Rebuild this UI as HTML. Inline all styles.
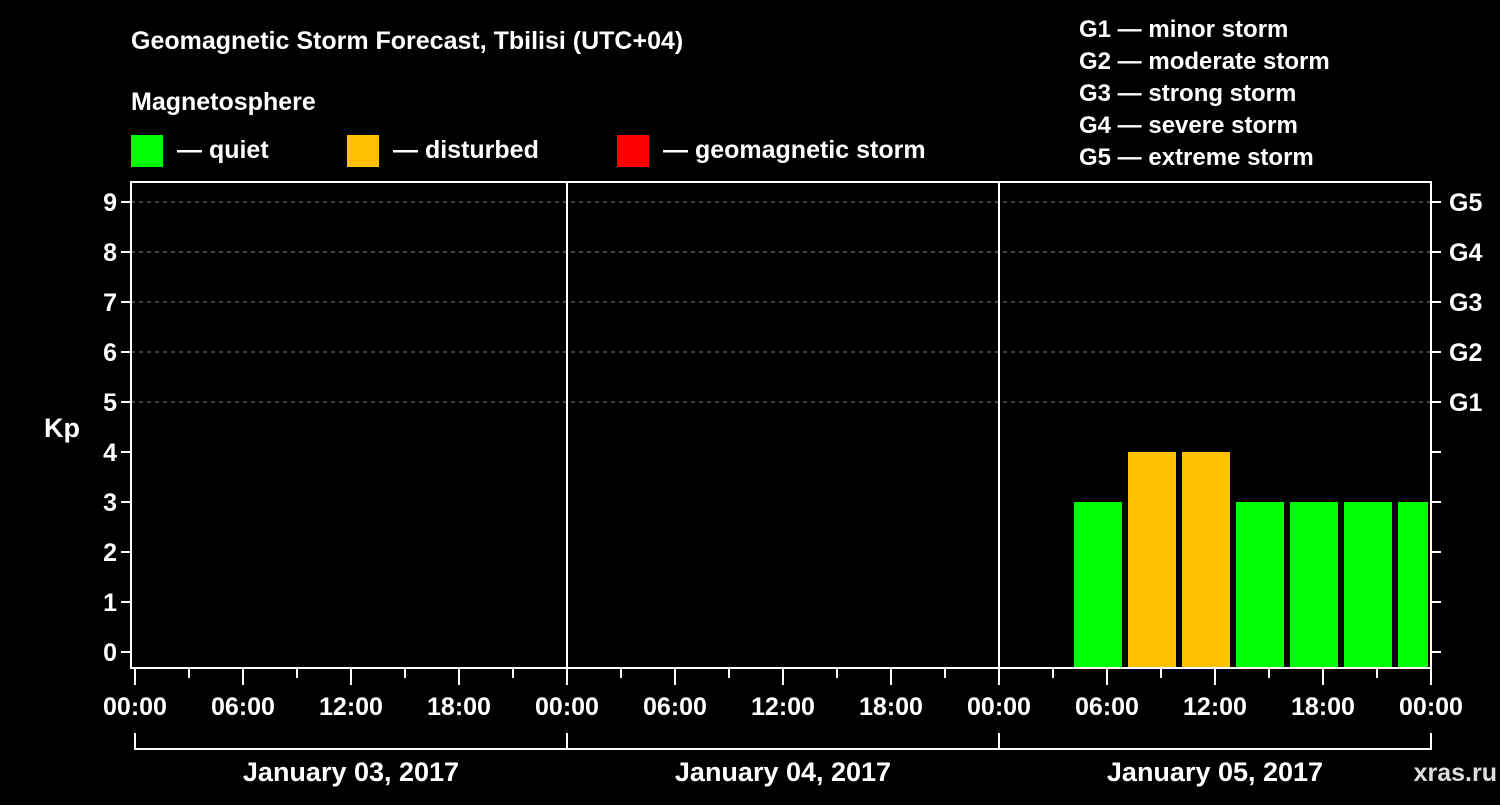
<!DOCTYPE html>
<html><head><meta charset="utf-8"><style>
body{margin:0;background:#000;width:1500px;height:800px;overflow:hidden}
svg text{font-family:"Liberation Sans",sans-serif;font-weight:bold;fill:#fff}
</style></head><body>
<svg id="c" width="1500" height="800">
<text x="131" y="49" font-size="25">Geomagnetic Storm Forecast, Tbilisi (UTC+04)</text>
<text x="131" y="110" font-size="25">Magnetosphere</text>
<g><rect x="131" y="135" width="32" height="32" fill="#00ff00"/><text x="177" y="158" font-size="25">— quiet</text></g>
<g><rect x="347" y="135" width="32" height="32" fill="#ffc000"/><text x="393" y="158" font-size="25">— disturbed</text></g>
<g><rect x="617" y="135" width="32" height="32" fill="#ff0000"/><text x="663" y="158" font-size="25">— geomagnetic storm</text></g>
<g font-size="24">
<text x="1079" y="37">G1 — minor storm</text>
<text x="1079" y="69">G2 — moderate storm</text>
<text x="1079" y="101">G3 — strong storm</text>
<text x="1079" y="133">G4 — severe storm</text>
<text x="1079" y="165">G5 — extreme storm</text>
</g>
<text x="62" y="437" font-size="27" text-anchor="middle">Kp</text>
<text x="1497" y="781" font-size="25" text-anchor="end" fill="#fff" style="fill:#ddd">xras.ru</text>
<g id="grid"></g><g id="bars"></g><g id="axes"></g>
</svg>
<script>
const days=["January 03, 2017","January 04, 2017","January 05, 2017"];
const hourLabels=["00:00","06:00","12:00","18:00"];
const yTicks=[0,1,2,3,4,5,6,7,8,9];
const gLabels=["G1","G2","G3","G4","G5"];
const gLevels=[5,6,7,8,9];
const barHours=[53.5,56.5,59.5,62.5,65.5,68.5,71.5];
const barKp=[3,4,4,3,3,3,3];
const NS="http://www.w3.org/2000/svg";
const X0=135,PXH=18,L=131,R=1431,T=182,B=668;
const x=h=>X0+h*PXH;
const y=k=>652-k*50;
function mk(tag,a,parent,txt){const e=document.createElementNS(NS,tag);for(const k in a)e.setAttribute(k,a[k]);if(txt!=null)e.textContent=txt;parent.appendChild(e);return e;}
const grid=document.getElementById('grid'),bars=document.getElementById('bars'),axes=document.getElementById('axes');
yTicks.forEach(k=>{if(k>=5){const l=mk('line',{x1:L,x2:R,y1:y(k),y2:y(k),stroke:'#888','stroke-dasharray':'4,4'},grid);

}
const t=mk('line',{x1:L-10,x2:L,y1:y(k),y2:y(k),stroke:'#fff','stroke-width':2},axes);
const t2=mk('line',{x1:R,x2:R+10,y1:y(k),y2:y(k),stroke:'#fff','stroke-width':2},axes);
const lb=mk('text',{x:L-14,y:y(k)+9,'font-size':25,'text-anchor':'end'},axes,String(k));

});
gLabels.forEach((g,i)=>{const t=mk('text',{x:R+18,y:y(gLevels[i])+9,'font-size':25},axes,g);

});
barHours.forEach((h,i)=>{const k=barKp[i];const c=k>=5?'#ff0000':(k>=4?'#ffc000':'#00ff00');
const x1=x(h)-24,x2=Math.min(x(h)+24,R-3);
const b=mk('rect',{x:x1,y:y(k),width:x2-x1,height:B-y(k),fill:c},bars);

});
mk('rect',{x:L,y:T,width:R-L,height:B-T,fill:'none',stroke:'#fff','stroke-width':2},axes);
for(let d=1;d<days.length;d++)mk('line',{x1:x(d*24),x2:x(d*24),y1:T,y2:B,stroke:'#fff','stroke-width':2},axes);
for(let h=0;h<=days.length*24;h+=3){const maj=h%6==0;mk('line',{x1:x(h),x2:x(h),y1:B,y2:B+(maj?17:10),stroke:'#fff','stroke-width':2},axes);
if(maj){const t=mk('text',{x:x(h),y:715,'font-size':25,'text-anchor':'middle'},axes,hourLabels[(h%24)/6]);

}}
days.forEach((d,i)=>{mk('path',{d:`M${x(i*24)},733V749H${x(i*24+24)}V733`,fill:'none',stroke:'#fff','stroke-width':2},axes);
const t=mk('text',{x:x(i*24+12),y:781,'font-size':27,'text-anchor':'middle'},axes,d);

});
</script>
</body></html>
